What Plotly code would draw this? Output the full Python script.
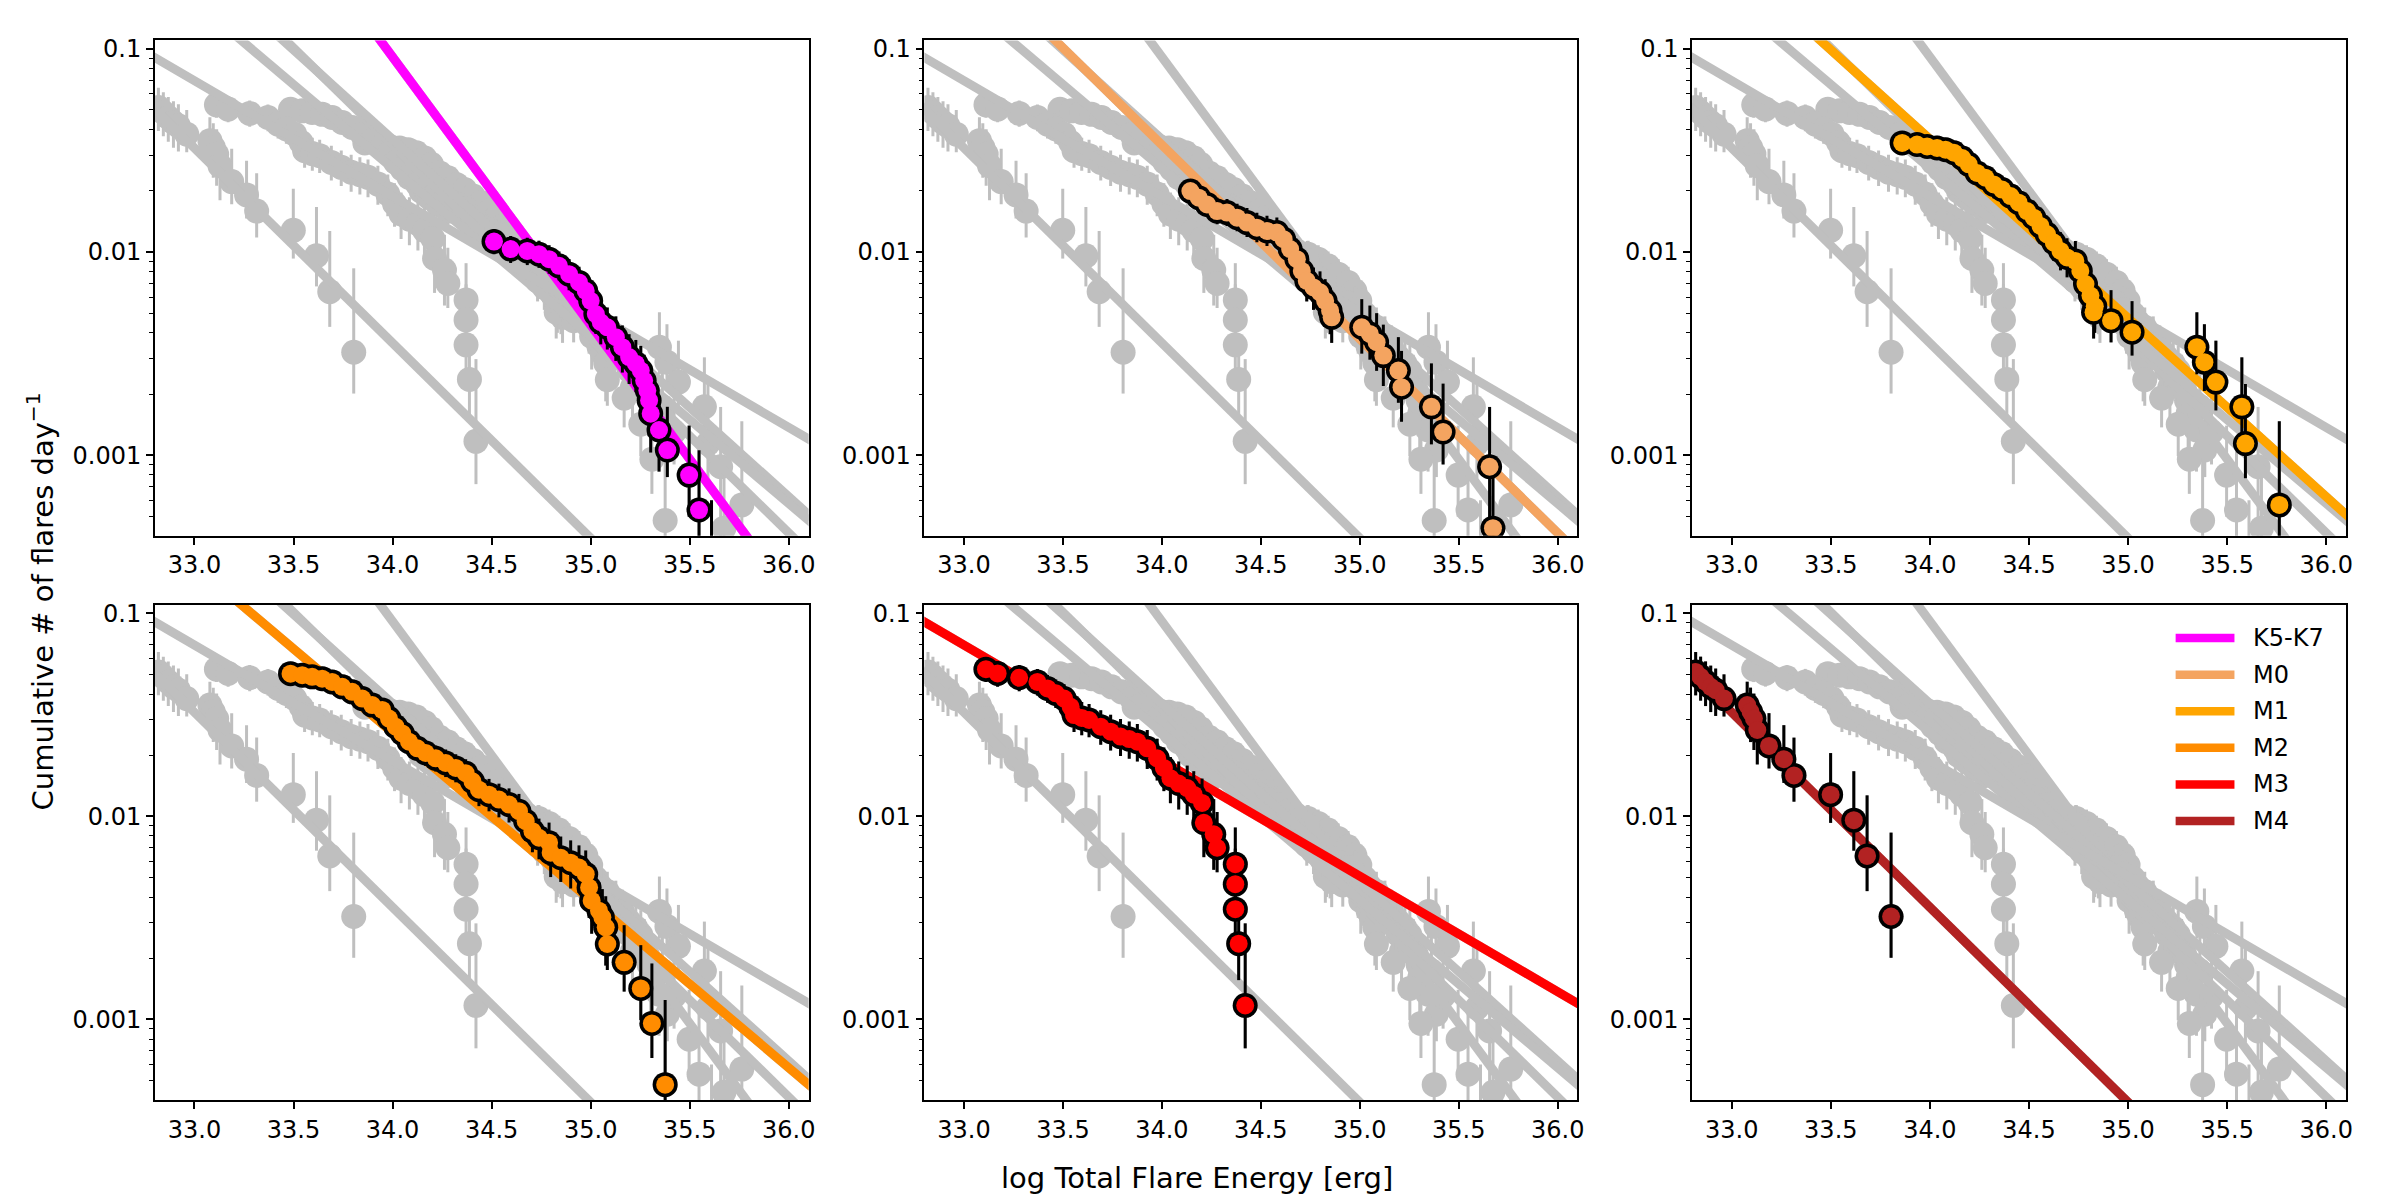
import plotly.graph_objects as go

# ---------------- data ----------------
labels = ["K5-K7", "M0", "M1", "M2", "M3", "M4"]
colors = ["#ff00ff", "#f4a460", "#ffa500", "#ff8c00", "#ff0000", "#b22222"]
grey = "#bfbfbf"

# power-law fits: log10(rate) = slope * (logE - 34) + lograte_at_34
fit_slope = [-1.32, -0.955, -0.88, -0.825, -0.569, -0.96]
fit_lograte_at_34 = [-1.04, -1.473, -1.445, -1.588, -1.726, -2.448]

x_ticks = [33.0, 33.5, 34.0, 34.5, 35.0, 35.5, 36.0]
x_ticktext = ["33.0", "33.5", "34.0", "34.5", "35.0", "35.5", "36.0"]
y_ticks = [0.001, 0.01, 0.1]
y_ticktext = ["0.001", "0.01", "0.1"]
y_minor = [0.0004, 0.0005, 0.0006, 0.0007, 0.0008, 0.0009,
           0.002, 0.003, 0.004, 0.005, 0.006, 0.007, 0.008, 0.009,
           0.02, 0.03, 0.04, 0.05, 0.06, 0.07, 0.08, 0.09]

k57_energy = [34.512, 34.596, 34.680, 34.739, 34.790, 34.840, 34.891, 34.941, 34.975, 35.000,
              35.026, 35.051, 35.084, 35.127, 35.160, 35.194, 35.228, 35.253, 35.270, 35.286,
              35.295, 35.303, 35.345, 35.387, 35.497, 35.547, 35.610]
k57_rate = [0.01126, 0.01033, 0.01012, 0.00975, 0.00922, 0.00855, 0.00778, 0.00708, 0.00644, 0.00575,
            0.00495, 0.00451, 0.00426, 0.00381, 0.0034, 0.00304, 0.00282, 0.00261, 0.00233, 0.00208,
            0.00186, 0.0016, 0.00133, 0.00106, 0.000798, 0.000537, 0.00027]
k57_err_up = [0.0017, 0.00166, 0.00164, 0.00161, 0.00157, 0.00151, 0.00144, 0.00138, 0.00131, 0.00124,
              0.00115, 0.0011, 0.00107, 0.00101, 0.00095, 0.0009, 0.00087, 0.00084, 0.00079, 0.00075,
              0.00071, 0.00065, 0.0006, 0.00067, 0.0006, 0.00052, 0.00033]
k57_err_dn = [0.0015, 0.0015, 0.0015, 0.0014, 0.0014, 0.0013, 0.0013, 0.0012, 0.0012, 0.0011,
              0.001, 0.001, 0.00095, 0.0009, 0.00085, 0.0008, 0.00078, 0.00075, 0.0007, 0.00066,
              0.00062, 0.00057, 0.0005, 0.00028, 0.0003, 0.0004, 0.00026]

m0_energy = [34.144, 34.186, 34.228, 34.279, 34.329, 34.380, 34.430, 34.480, 34.531, 34.581,
             34.615, 34.648, 34.682, 34.707, 34.732, 34.766, 34.799, 34.825, 34.850, 34.858,
             35.010, 35.051, 35.085, 35.119, 35.195, 35.211, 35.362, 35.421, 35.656, 35.673]
m0_rate = [0.01995, 0.0185, 0.01715, 0.0159, 0.01563, 0.01476, 0.01395, 0.01318, 0.01269, 0.01247,
           0.01156, 0.01033, 0.00922, 0.00807, 0.00721, 0.00669, 0.00633, 0.00575, 0.00514, 0.00477,
           0.00426, 0.00395, 0.0036, 0.00309, 0.00261, 0.00216, 0.00173, 0.0013, 0.000877, 0.000437]
m0_err_up = [0.0029, 0.0028, 0.0027, 0.0026, 0.0026, 0.0025, 0.0025, 0.0024, 0.0024, 0.0023,
             0.0023, 0.0021, 0.002, 0.0019, 0.0018, 0.0017, 0.0017, 0.0016, 0.0015, 0.0014,
             0.0016, 0.0015, 0.0014, 0.0013, 0.0012, 0.0011, 0.0011, 0.00095, 0.00085, 0.00045]
m0_err_dn = [0.0025, 0.0024, 0.0023, 0.0022, 0.0022, 0.0021, 0.0021, 0.002, 0.002, 0.002,
             0.0019, 0.0018, 0.0017, 0.0016, 0.0015, 0.0015, 0.0014, 0.0013, 0.0012, 0.0012,
             0.0011, 0.001, 0.001, 0.0009, 0.0008, 0.0007, 0.0006, 0.0004, 0.0005, 0.0004]

m1_energy = [33.860, 33.935, 33.986, 34.036, 34.079, 34.121, 34.163, 34.196, 34.238, 34.280,
             34.322, 34.364, 34.407, 34.448, 34.490, 34.524, 34.558, 34.591, 34.625, 34.659,
             34.692, 34.734, 34.759, 34.785, 34.810, 34.832, 34.826, 34.914, 35.020, 35.347,
             35.385, 35.443, 35.574, 35.592, 35.763]
m1_rate = [0.03443, 0.0338, 0.0331, 0.0325, 0.0319, 0.0308, 0.029, 0.027, 0.0245, 0.0232,
           0.0215, 0.0203, 0.01884, 0.01748, 0.0159, 0.01476, 0.01343, 0.01222, 0.01113, 0.01012,
           0.0094, 0.00904, 0.00807, 0.00695, 0.0061, 0.0054, 0.00505, 0.00459, 0.00403, 0.0034,
           0.00287, 0.00229, 0.00173, 0.00114, 0.000569]
m1_err_up = [0.0044, 0.0044, 0.0043, 0.0043, 0.0043, 0.0042, 0.0041, 0.0039, 0.0037, 0.0036,
             0.0035, 0.0034, 0.0033, 0.0032, 0.003, 0.0029, 0.0028, 0.0026, 0.0025, 0.0024,
             0.0023, 0.0023, 0.0021, 0.002, 0.0019, 0.0018, 0.0017, 0.0019, 0.0017, 0.00165,
             0.00154, 0.00137, 0.0013, 0.0011, 0.0009]
m1_err_dn = [0.004, 0.004, 0.0039, 0.0039, 0.0039, 0.0038, 0.0037, 0.0035, 0.0033, 0.0032,
             0.0031, 0.003, 0.0029, 0.0028, 0.0026, 0.0025, 0.0024, 0.0022, 0.0021, 0.002,
             0.0019, 0.0019, 0.0018, 0.0016, 0.0015, 0.0014, 0.0013, 0.001, 0.00094, 0.0009,
             0.0008, 0.00063, 0.0006, 0.00037, 0.0005]

m2_energy = [33.485, 33.544, 33.594, 33.645, 33.695, 33.746, 33.796, 33.847, 33.897, 33.948,
             33.982, 34.016, 34.049, 34.083, 34.125, 34.167, 34.218, 34.268, 34.319, 34.369,
             34.403, 34.436, 34.487, 34.537, 34.588, 34.638, 34.672, 34.706, 34.739, 34.790,
             34.798, 34.849, 34.899, 34.941, 34.975, 34.992, 35.005, 35.042, 35.059, 35.076,
             35.084, 35.169, 35.253, 35.309, 35.376]
m2_rate = [0.0504, 0.0495, 0.0486, 0.0476, 0.0459, 0.0434, 0.041, 0.038, 0.0353, 0.0334,
           0.0303, 0.0276, 0.0256, 0.0233, 0.0216, 0.0205, 0.0193, 0.0183, 0.0173, 0.0163,
           0.01486, 0.01352, 0.01278, 0.01208, 0.01142, 0.01059, 0.00946, 0.00845, 0.00784, 0.00741,
           0.00662, 0.00625, 0.00591, 0.00559, 0.00519, 0.00446, 0.00384, 0.00343, 0.00318, 0.00284,
           0.00235, 0.00191, 0.00142, 0.000955, 0.000477]
m2_err_up = [0.0049, 0.0049, 0.0048, 0.0048, 0.0047, 0.0046, 0.0044, 0.0043, 0.0041, 0.004,
             0.0038, 0.0036, 0.0035, 0.0033, 0.0032, 0.0031, 0.003, 0.003, 0.0029, 0.0028,
             0.0027, 0.0025, 0.0025, 0.0024, 0.0023, 0.0023, 0.0021, 0.002, 0.0019, 0.0019,
             0.0018, 0.0017, 0.0017, 0.0016, 0.0016, 0.0015, 0.0014, 0.0013, 0.0012, 0.0012,
             0.00115, 0.001, 0.0009, 0.00093, 0.00077]
m2_err_dn = [0.0045, 0.0045, 0.0044, 0.0044, 0.0043, 0.0042, 0.004, 0.0039, 0.0037, 0.0036,
             0.0034, 0.0033, 0.0032, 0.003, 0.0029, 0.0028, 0.0027, 0.0027, 0.0026, 0.0025,
             0.0024, 0.0023, 0.0022, 0.0022, 0.0021, 0.002, 0.0019, 0.0018, 0.0017, 0.0017,
             0.0016, 0.0015, 0.0015, 0.0014, 0.0014, 0.0013, 0.0012, 0.0011, 0.0011, 0.001,
             0.0006, 0.00054, 0.00043, 0.00031, 0.00045]

m3_energy = [33.111, 33.170, 33.279, 33.371, 33.422, 33.464, 33.506, 33.539, 33.556, 33.595,
             33.632, 33.691, 33.741, 33.791, 33.835, 33.876, 33.926, 33.976, 34.010, 34.043,
             34.085, 34.128, 34.161, 34.203, 34.212, 34.262, 34.279, 34.371, 34.371, 34.371,
             34.388, 34.421]
m3_rate = [0.053, 0.0505, 0.0481, 0.0459, 0.0426, 0.0403, 0.038, 0.0346, 0.0315, 0.0305,
           0.0298, 0.0276, 0.0261, 0.0247, 0.024, 0.0233, 0.0216, 0.0193, 0.0173, 0.0154,
           0.0145, 0.01377, 0.01278, 0.01164, 0.00929, 0.00815, 0.007, 0.00581, 0.00463, 0.00349,
           0.00236, 0.00117]
m3_err_up = [0.0079, 0.0077, 0.0075, 0.0073, 0.0071, 0.0069, 0.0067, 0.0064, 0.0061, 0.006,
             0.0059, 0.0057, 0.0055, 0.0054, 0.0053, 0.0052, 0.005, 0.0048, 0.0045, 0.0042,
             0.0041, 0.004, 0.0039, 0.0037, 0.0033, 0.004, 0.0035, 0.003, 0.0023, 0.002,
             0.0016, 0.0018]
m3_err_dn = [0.0072, 0.007, 0.0068, 0.0066, 0.0064, 0.0062, 0.006, 0.0058, 0.0055, 0.0054,
             0.0053, 0.0051, 0.005, 0.0049, 0.0048, 0.0047, 0.0045, 0.0043, 0.004, 0.0038,
             0.0037, 0.0036, 0.0035, 0.0033, 0.003, 0.0027, 0.0017, 0.0017, 0.0014, 0.0012,
             0.0008, 0.00045]

m4_energy = [32.818, 32.843, 32.868, 32.894, 32.919, 32.961, 33.078, 33.095, 33.112, 33.129,
             33.188, 33.263, 33.314, 33.499, 33.616, 33.683, 33.804]
m4_rate = [0.0514, 0.0486, 0.0459, 0.0434, 0.0418, 0.038, 0.0353, 0.0327, 0.0303, 0.0266,
           0.0222, 0.0191, 0.0159, 0.01278, 0.00957, 0.00638, 0.00321]
m4_err_up = [0.013, 0.0125, 0.012, 0.0118, 0.0116, 0.012, 0.0107, 0.0103, 0.0099, 0.0093,
             0.01, 0.009, 0.0085, 0.0077, 0.0071, 0.0063, 0.0051]
m4_err_dn = [0.012, 0.0115, 0.011, 0.0108, 0.0106, 0.007, 0.0098, 0.0095, 0.0091, 0.0086,
             0.005, 0.0045, 0.0041, 0.0035, 0.0028, 0.0021, 0.0012]

energies = [k57_energy, m0_energy, m1_energy, m2_energy, m3_energy, m4_energy]
rates = [k57_rate, m0_rate, m1_rate, m2_rate, m3_rate, m4_rate]
errs_up = [k57_err_up, m0_err_up, m1_err_up, m2_err_up, m3_err_up, m4_err_up]
errs_dn = [k57_err_dn, m0_err_dn, m1_err_dn, m2_err_dn, m3_err_dn, m4_err_dn]

# ---------------- layout geometry ----------------
FONT = "DejaVu Sans"
x_domains = [[0.0647, 0.3379], [0.3863, 0.6592], [0.7071, 0.9804]]
y_domains = [[0.5558, 0.9703], [0.0837, 0.4980]]
x_range = [32.8, 36.1]
y_range = [-3.397, -0.959]
fit_x = [32.6, 36.3]

GREY_SIZE = 25
EDGE_SIZE = 25
FILL_SIZE = 18

fig = go.Figure()

for p in range(6):
    r, c = divmod(p, 3)
    suffix = "" if p == 0 else str(p + 1)
    xa, ya = "x" + suffix, "y" + suffix
    common = dict(xaxis=xa, yaxis=ya, showlegend=False, hoverinfo="skip")

    # grey data for all groups
    for d in range(6):
        fig.add_trace(go.Scatter(
            x=energies[d], y=rates[d], mode="markers",
            marker=dict(size=GREY_SIZE, color=grey, line=dict(width=0)),
            error_y=dict(type="data", symmetric=False, array=errs_up[d], arrayminus=errs_dn[d],
                         color=grey, thickness=3, width=0),
            **common))
    # grey fits for all groups
    for d in range(6):
        fy = [10 ** (fit_slope[d] * (x - 34) + fit_lograte_at_34[d]) for x in fit_x]
        fig.add_trace(go.Scatter(x=fit_x, y=fy, mode="lines",
                                 line=dict(color=grey, width=9), **common))
    # highlighted fit
    fy = [10 ** (fit_slope[p] * (x - 34) + fit_lograte_at_34[p]) for x in fit_x]
    fig.add_trace(go.Scatter(x=fit_x, y=fy, mode="lines",
                             line=dict(color=colors[p], width=9), **common))
    # highlighted data: black outline layer with error bars, then coloured fill
    fig.add_trace(go.Scatter(
        x=energies[p], y=rates[p], mode="markers",
        marker=dict(size=EDGE_SIZE, color="black", line=dict(width=0)),
        error_y=dict(type="data", symmetric=False, array=errs_up[p], arrayminus=errs_dn[p],
                     color="black", thickness=3, width=0),
        **common))
    fig.add_trace(go.Scatter(
        x=energies[p], y=rates[p], mode="markers",
        marker=dict(size=FILL_SIZE, color=colors[p], line=dict(width=0)),
        **common))

    axis_common = dict(showline=True, linecolor="black", linewidth=1.6, mirror=True,
                       showgrid=False, zeroline=False, ticks="outside", ticklen=7,
                       tickwidth=1.6, tickcolor="black",
                       tickfont=dict(family=FONT, size=24, color="black"))
    fig.layout["xaxis" + suffix] = dict(domain=x_domains[c], range=x_range, anchor=ya,
                                        tickmode="array", tickvals=x_ticks, ticktext=x_ticktext,
                                        **axis_common)
    fig.layout["yaxis" + suffix] = dict(domain=y_domains[r], type="log", range=y_range, anchor=xa,
                                        tickmode="array", tickvals=y_ticks, ticktext=y_ticktext,
                                        minor=dict(tickmode="array", tickvals=y_minor, ticks="outside",
                                                   ticklen=4, tickwidth=1.2, tickcolor="black"),
                                        **axis_common)

# ---------------- titles ----------------
annotations = [
    dict(text="log Total Flare Energy [erg]", x=0.5, y=1 - 1178 / 1200, xref="paper", yref="paper",
         showarrow=False, xanchor="center", yanchor="middle",
         font=dict(family=FONT, size=29, color="black")),
    dict(text="Cumulative # of flares day<sup>−1</sup>", x=40 / 2400, y=0.5008, xref="paper", yref="paper",
         showarrow=False, xanchor="center", yanchor="middle", textangle=-90,
         font=dict(family=FONT, size=29, color="black")),
]

# ---------------- legend (inside last panel, no frame) ----------------
shapes = []
for k, (lab, col) in enumerate(zip(labels, colors)):
    yc = 1 - (635.7 + 36.76 * k) / 1200
    shapes.append(dict(type="line", xref="paper", yref="paper", x0=2182 / 2400, x1=2241 / 2400,
                       y0=yc, y1=yc, line=dict(color=col, width=8.5)))
    annotations.append(dict(text=lab, x=2258 / 2400, y=yc, xref="paper", yref="paper",
                            showarrow=False, xanchor="left", yanchor="middle",
                            font=dict(family=FONT, size=24, color="black")))

fig.update_layout(width=2400, height=1200, margin=dict(l=0, r=0, t=0, b=0),
                  paper_bgcolor="white", plot_bgcolor="white",
                  font=dict(family=FONT, size=24, color="black"),
                  annotations=annotations, shapes=shapes)

fig.write_html("out.html")
